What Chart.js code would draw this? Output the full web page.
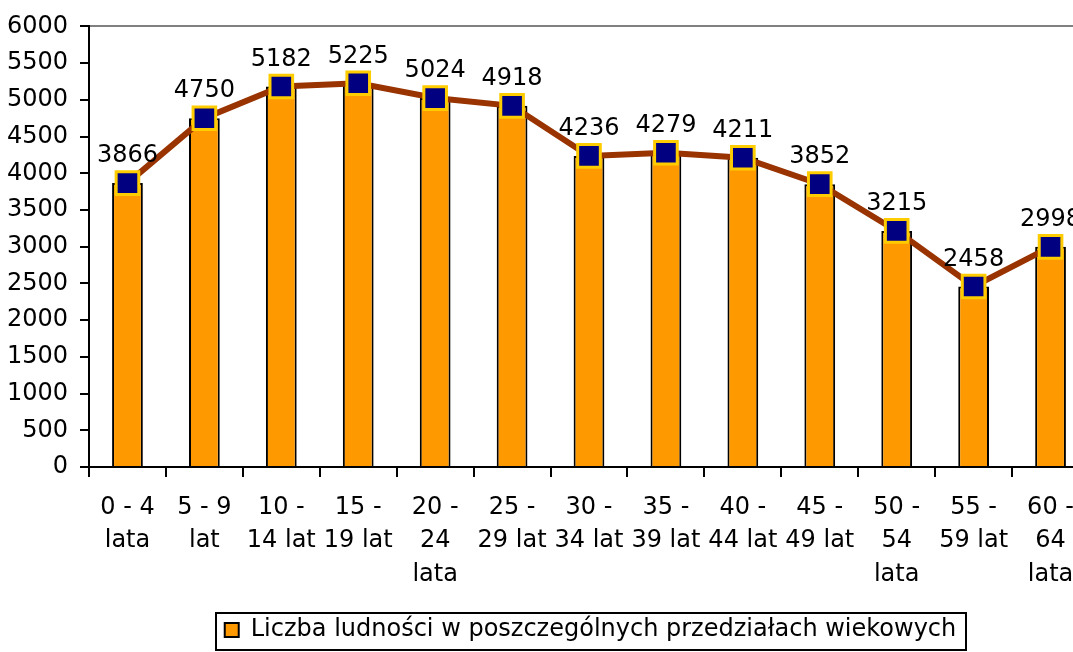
<!DOCTYPE html>
<html>
<head>
<meta charset="utf-8">
<script src="https://cdn.jsdelivr.net/npm/chart.js@4"></script>
<style>
  html, body { margin: 0; padding: 0; background: #fff; overflow: hidden; }
  #wrap { width: 1180px; height: 652px; }
</style>
</head>
<body>
<div id="wrap"><canvas id="chart" width="1180" height="652"></canvas></div>
<script>
var categories = [
  ['0 - 4', 'lata'], ['5 - 9', 'lat'], ['10 -', '14 lat'], ['15 -', '19 lat'],
  ['20 -', '24', 'lata'], ['25 -', '29 lat'], ['30 -', '34 lat'], ['35 -', '39 lat'],
  ['40 -', '44 lat'], ['45 -', '49 lat'], ['50 -', '54', 'lata'], ['55 -', '59 lat'],
  ['60 -', '64', 'lata']
];
var population = [3866, 4750, 5182, 5225, 5024, 4918, 4236, 4279, 4211, 3852, 3215, 2458, 2998];
var seriesName = 'Liczba ludności w poszczególnych przedziałach wiekowych';
var yMin = 0, yMax = 6000, yStep = 500;

var FONT = '"DejaVu Sans", "Liberation Sans", Arial, sans-serif';
Chart.defaults.font.family = FONT;
Chart.defaults.font.size = 24;
Chart.defaults.color = '#000';

var valueLabels = {
  id: 'valueLabels',
  afterDatasetsDraw: function(chart) {
    var ctx = chart.ctx;
    var meta = chart.getDatasetMeta(1);
    ctx.save();
    ctx.font = '24px ' + FONT;
    ctx.fillStyle = '#000';
    ctx.textAlign = 'center';
    ctx.textBaseline = 'bottom';
    meta.data.forEach(function(pt, i) {
      ctx.fillText(String(population[i]), pt.x, pt.y - 15);
    });
    ctx.restore();
  }
};

// legend sits centred on the whole chart, not only on the plot width
var legendShift = 46;
var legendPlace = {
  id: 'legendPlace',
  afterLayout: function(chart) {
    var lg = chart.legend;
    lg.left += legendShift;
    lg.right += legendShift;
  },
  afterDraw: function(chart) {
    var lg = chart.legend;
    var ctx = chart.ctx;
    ctx.save();
    ctx.font = '24px ' + FONT;
    var itemW = 14 + 12 + ctx.measureText(seriesName).width;
    var cx = (lg.left + lg.right) / 2;
    var top = Math.round(lg.top + 3);
    ctx.strokeStyle = '#000';
    ctx.lineWidth = 2;
    ctx.strokeRect(Math.round(cx - itemW / 2 - 9), top, Math.round(itemW + 18), 650 - top);
    ctx.restore();
  }
};

new Chart(document.getElementById('chart'), {
  data: {
    labels: categories,
    datasets: [{
      type: 'bar',
      label: seriesName,
      data: population,
      backgroundColor: '#FF9900',
      borderColor: '#000',
      borderWidth: 2,
      borderSkipped: 'bottom',
      categoryPercentage: 1,
      barPercentage: 0.4,
      order: 1
    }, {
      type: 'line',
      label: 'linia',
      data: population,
      borderColor: '#993300',
      borderWidth: 6,
      pointStyle: 'rect',
      pointRadius: 16,
      pointBackgroundColor: '#000080',
      pointBorderColor: '#FFCC00',
      pointBorderWidth: 3,
      tension: 0,
      order: 0
    }]
  },
  options: {
    responsive: false,
    animation: false,
    layout: { padding: { top: 8, left: 0, right: 91, bottom: 0 } },
    scales: {
      x: {
        offset: true,
        afterFit: function(scale) { scale.height = 143; },
        grid: { offset: true, drawOnChartArea: false, color: '#000', tickLength: 10, lineWidth: 2 },
        border: { color: '#000', width: 2 },
        ticks: { maxRotation: 0, autoSkip: false, padding: 14, font: { size: 24, lineHeight: 1.39 } }
      },
      y: {
        min: yMin,
        max: yMax,
        afterFit: function(scale) { scale.width = 89; },
        ticks: {
          stepSize: yStep,
          padding: 12,
          font: { size: 24 },
          callback: function(v) { return String(v); }
        },
        grid: {
          color: function(c) { return c.tick && c.tick.value === yMax ? '#808080' : 'rgba(0,0,0,0)'; },
          tickColor: '#000',
          tickLength: 9,
          lineWidth: 2
        },
        border: { color: '#000', width: 2 }
      }
    },
    plugins: {
      tooltip: { enabled: false },
      legend: {
        position: 'bottom',
        labels: {
          filter: function(item) { return item.datasetIndex === 0; },
          boxWidth: 14,
          boxHeight: 14,
          padding: 8,
          font: { size: 24 }
        }
      }
    }
  },
  plugins: [valueLabels, legendPlace]
});
</script>
</body>
</html>
